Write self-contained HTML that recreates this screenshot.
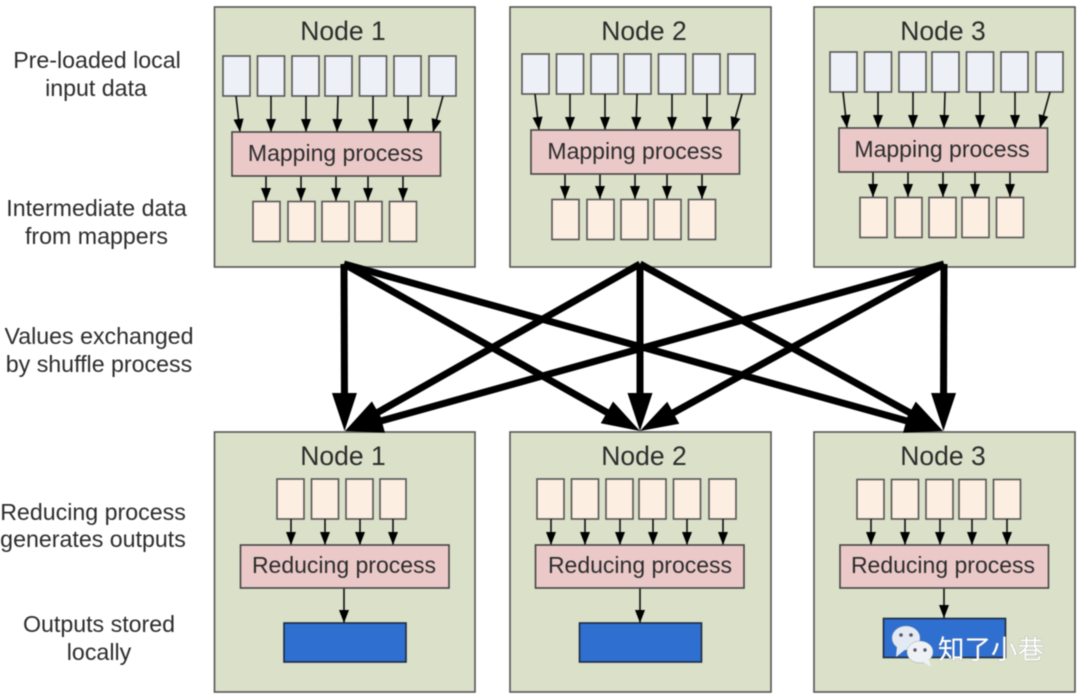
<!DOCTYPE html>
<html><head><meta charset="utf-8"><style>
html,body{margin:0;padding:0;background:#fff}
svg{display:block;filter:blur(.6px)}
text{font-family:"Liberation Sans","Noto Sans CJK SC",sans-serif;fill:#2c2c2c}
.n{fill:#dbe0c9;stroke:#555;stroke-width:1.6}
.i{fill:#edf1f7;stroke:#555;stroke-width:1.6}
.o{fill:#fdeee2;stroke:#555;stroke-width:1.6}
.p{fill:#ebc9c9;stroke:#444;stroke-width:1.6}
.b{fill:#2f6fd0;stroke:#1b2a40;stroke-width:1.6}
.a line{stroke:#111;stroke-width:1.6;marker-end:url(#s)}
.big line{stroke:#000;stroke-width:7;marker-end:url(#h)}
.t{font-size:26.5px;text-anchor:middle}
.m{font-size:23px;text-anchor:middle}
.l{font-size:23.2px;text-anchor:middle}
</style></head><body>
<svg width="1080" height="698" viewBox="0 0 1080 698" xmlns="http://www.w3.org/2000/svg">
<defs>
<marker id="s" markerUnits="userSpaceOnUse" markerWidth="14" markerHeight="14" refX="7" refY="7" orient="auto" overflow="visible"><path d="M-6 2L7 7L-6 12z" fill="#000"/></marker>
<marker id="h" markerUnits="userSpaceOnUse" markerWidth="40" markerHeight="30" refX="18" refY="15.500" orient="auto" overflow="visible"><path d="M0 3L38 15.500L0 28z" fill="#000"/></marker>
<g id="top">
<rect class="i" x="223" y="56" width="27" height="40"/><rect class="i" x="257.500" y="56" width="27" height="40"/><rect class="i" x="292" y="56" width="27" height="40"/><rect class="i" x="325" y="56" width="27" height="40"/><rect class="i" x="359.500" y="56" width="27" height="40"/><rect class="i" x="394" y="56" width="27" height="40"/><rect class="i" x="429" y="56" width="27" height="40"/>
<g class="a"><line x1="236" y1="96" x2="240" y2="132"/><line x1="271" y1="96" x2="271" y2="132"/><line x1="306" y1="96" x2="306" y2="132"/><line x1="338" y1="96" x2="337" y2="132"/><line x1="373" y1="96" x2="373" y2="132"/><line x1="408" y1="96" x2="408" y2="132"/><line x1="443" y1="96" x2="433" y2="132"/>
<line x1="266" y1="176" x2="266" y2="201"/><line x1="301" y1="176" x2="301" y2="201"/><line x1="336" y1="176" x2="336" y2="201"/><line x1="368" y1="176" x2="368" y2="201"/><line x1="403" y1="176" x2="403" y2="201"/></g>
<rect class="p" x="232" y="132" width="208.500" height="44"/>
<rect class="o" x="253" y="201.500" width="27" height="40"/><rect class="o" x="288" y="201.500" width="27" height="40"/><rect class="o" x="322" y="201.500" width="27" height="40"/><rect class="o" x="355" y="201.500" width="27" height="40"/><rect class="o" x="389.500" y="201.500" width="27" height="40"/>
</g>
</defs>

<rect class="n" x="214.500" y="7" width="260.500" height="260"/>
<rect class="n" x="510" y="7" width="261" height="260"/>
<rect class="n" x="814" y="7" width="261" height="260"/>
<use href="#top"/>
<use href="#top" transform="translate(299 -2)"/>
<use href="#top" transform="translate(607 -4)"/>

<text class="t" x="343" y="40">Node 1</text>
<text class="t" x="644" y="40">Node 2</text>
<text class="t" x="943" y="40">Node 3</text>
<text class="m" x="335.500" y="161">Mapping process</text>
<text class="m" x="635" y="159">Mapping process</text>
<text class="m" x="942" y="157">Mapping process</text>

<rect class="n" x="214.500" y="432" width="260.500" height="260"/>
<rect class="n" x="510" y="432" width="261" height="260"/>
<rect class="n" x="814" y="432" width="261" height="260"/>

<rect class="o" x="277" y="479" width="27" height="40"/><rect class="o" x="311.500" y="479" width="27" height="40"/><rect class="o" x="346" y="479" width="27" height="40"/><rect class="o" x="380" y="479" width="26" height="40"/>
<rect class="o" x="537" y="479" width="27" height="40"/><rect class="o" x="571.500" y="479" width="27" height="40"/><rect class="o" x="606" y="479" width="27" height="40"/><rect class="o" x="639" y="479" width="27" height="40"/><rect class="o" x="673.500" y="479" width="27" height="40"/><rect class="o" x="709" y="479" width="27" height="40"/>
<rect class="o" x="857" y="479.500" width="27" height="39.500"/><rect class="o" x="891.500" y="479.500" width="27" height="39.500"/><rect class="o" x="926" y="479.500" width="27" height="39.500"/><rect class="o" x="959" y="479.500" width="27" height="39.500"/><rect class="o" x="993.500" y="479.500" width="27" height="39.500"/>
<g class="a">
<line x1="291" y1="519" x2="291" y2="545"/><line x1="325" y1="519" x2="325" y2="545"/><line x1="360" y1="519" x2="360" y2="545"/><line x1="393" y1="519" x2="393" y2="545"/>
<line x1="551" y1="519" x2="551" y2="545"/><line x1="585" y1="519" x2="585" y2="545"/><line x1="620" y1="519" x2="620" y2="545"/><line x1="653" y1="519" x2="653" y2="545"/><line x1="687" y1="519" x2="687" y2="545"/><line x1="723" y1="519" x2="723" y2="545"/>
<line x1="871" y1="519" x2="871" y2="545"/><line x1="905" y1="519" x2="905" y2="545"/><line x1="940" y1="519" x2="940" y2="545"/><line x1="972" y1="519" x2="972" y2="545"/><line x1="1007" y1="519" x2="1007" y2="545"/>
<line x1="344" y1="588" x2="344" y2="623"/><line x1="640" y1="588" x2="640" y2="623"/><line x1="944" y1="588" x2="944" y2="618"/>
</g>
<rect class="p" x="240.500" y="545" width="208.500" height="43"/>
<rect class="p" x="535.500" y="545" width="208.500" height="43"/>
<rect class="p" x="840" y="545" width="208.500" height="43"/>
<rect class="b" x="284" y="623" width="122" height="39"/>
<rect class="b" x="579.500" y="623" width="122" height="39"/>
<rect class="b" x="883.500" y="618.500" width="122" height="39"/>

<text class="t" x="343" y="465">Node 1</text>
<text class="t" x="644" y="465">Node 2</text>
<text class="t" x="943" y="465">Node 3</text>
<text class="m" x="344" y="573">Reducing process</text>
<text class="m" x="640" y="573">Reducing process</text>
<text class="m" x="943" y="573">Reducing process</text>

<g class="big">
<line x1="344" y1="264" x2="344.500" y2="411"/>
<line x1="344" y1="264" x2="622.600" y2="421.200"/>
<line x1="344" y1="264" x2="923.700" y2="425.600"/>
<line x1="640" y1="264" x2="362.400" y2="421.100"/>
<line x1="640" y1="264" x2="640" y2="411"/>
<line x1="640" y1="264" x2="925.500" y2="421.300"/>
<line x1="944" y1="264" x2="364.300" y2="425.600"/>
<line x1="944" y1="264" x2="657.500" y2="421.400"/>
<line x1="944" y1="264" x2="943.500" y2="411"/>
</g>

<text class="l" x="97" y="68">Pre-loaded local</text>
<text class="l" x="96" y="96">input data</text>
<text class="l" x="96.500" y="216">Intermediate data</text>
<text class="l" x="96.500" y="244">from mappers</text>
<text class="l" x="99" y="344">Values exchanged</text>
<text class="l" x="99" y="372">by shuffle process</text>
<text class="l" x="93" y="520">Reducing process</text>
<text class="l" x="93" y="547">generates outputs</text>
<text class="l" x="99" y="632">Outputs stored</text>
<text class="l" x="99" y="660">locally</text>

<g>
<ellipse cx="906" cy="638" rx="14" ry="12" fill="#e4eaf3" stroke="#9aa" stroke-width=".5"/>
<path d="M897 646L896 657L906 649z" fill="#e4eaf3"/>
<circle cx="901" cy="635" r="1.800" fill="#556"/><circle cx="911" cy="635" r="1.800" fill="#556"/>
<ellipse cx="920" cy="652" rx="13" ry="11" fill="#eef2f6" stroke="#9aa" stroke-width=".5"/>
<path d="M922 661L931 667L928 657z" fill="#eef2f6"/>
<circle cx="915" cy="650" r="1.700" fill="#556"/><circle cx="925" cy="650" r="1.700" fill="#556"/>
<text x="938" y="659" style="font-size:26.500px;fill:#fff;stroke:#8a8f96;stroke-width:.5px;paint-order:stroke">知了小巷</text>
</g>
</svg>
</body></html>
